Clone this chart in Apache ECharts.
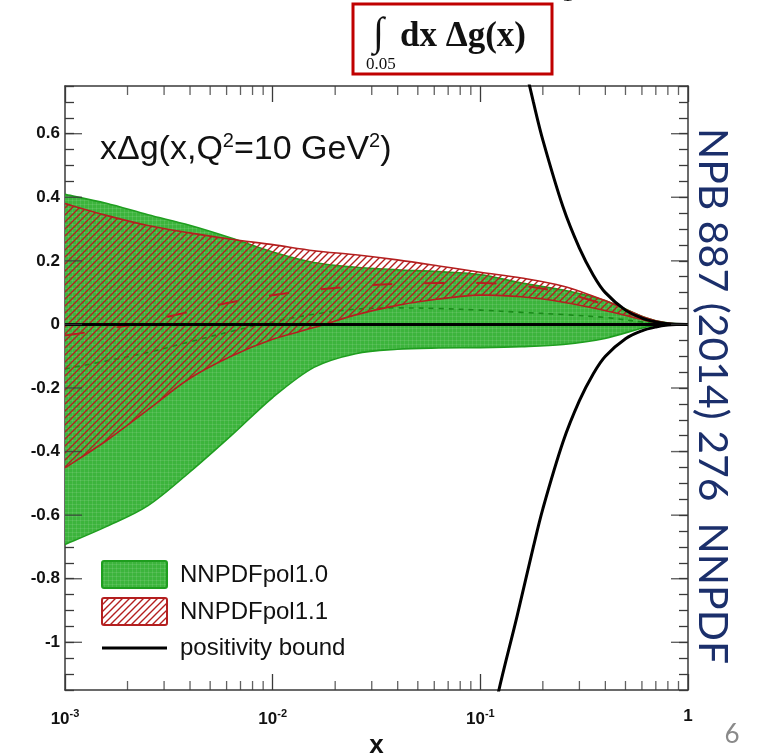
<!DOCTYPE html>
<html>
<head>
<meta charset="utf-8">
<script src="https://cdn.jsdelivr.net/npm/echarts@6/dist/echarts.min.js"></script>
<style>
  html, body { margin: 0; padding: 0; background: #ffffff; overflow: hidden; }
  #chart { width: 757px; height: 756px; }
</style>
</head>
<body>
<div id="chart"></div>
<script>
// ---- data: x*Delta g(x, Q^2 = 10 GeV^2) ----
// shared log-spaced x grid for both fits
const xGrid = [0.001, 0.00158, 0.00251, 0.00398, 0.00631, 0.01, 0.0158, 0.0251, 0.0398, 0.0631, 0.1, 0.158, 0.251, 0.398, 0.631, 0.794, 1];

// NNPDFpol1.0 (green band)
const pol10Upper   = [0.409, 0.381, 0.345, 0.312, 0.272, 0.228, 0.195, 0.180, 0.172, 0.166, 0.157, 0.130, 0.108, 0.075, 0.020, 0.005, 0];
const pol10Lower   = [-0.692, -0.636, -0.570, -0.465, -0.350, -0.230, -0.135, -0.092, -0.078, -0.074, -0.073, -0.070, -0.063, -0.044, -0.008, -0.002, 0];
const pol10Central = [-0.140, -0.115, -0.088, -0.055, -0.022, 0.008, 0.032, 0.048, 0.052, 0.050, 0.045, 0.038, 0.031, 0.022, 0.006, 0.001, 0];

// NNPDFpol1.1 (red hatched band)
const pol11Upper   = [0.380, 0.343, 0.311, 0.288, 0.268, 0.251, 0.232, 0.219, 0.203, 0.184, 0.164, 0.146, 0.120, 0.075, 0.020, 0.004, 0];
const pol11Lower   = [-0.451, -0.366, -0.268, -0.170, -0.100, -0.047, -0.010, 0.030, 0.060, 0.080, 0.092, 0.087, 0.070, 0.044, 0.012, 0.003, 0];
const pol11Central = [-0.035, -0.015, 0.010, 0.040, 0.070, 0.092, 0.108, 0.120, 0.128, 0.130, 0.130, 0.122, 0.100, 0.062, 0.016, 0.004, 0];

// positivity bound |x Delta g| <= x g
const boundX     = [0.1, 0.12, 0.15, 0.18, 0.2, 0.25, 0.3, 0.35, 0.4, 0.5, 0.6, 0.7, 0.8, 0.9, 1];
const boundUpper = [1.45, 1.18, 0.92, 0.70, 0.58, 0.37, 0.24, 0.155, 0.10, 0.045, 0.020, 0.008, 0.002, 0.0004, 0];
const boundLower = [-1.45, -1.18, -0.92, -0.70, -0.58, -0.37, -0.24, -0.155, -0.10, -0.045, -0.020, -0.008, -0.002, -0.0004, 0];

// axes
const xMin = 0.001, xMax = 1;
const yMin = -1.15, yMax = 0.75;
const yMajorTicks = [-1, -0.8, -0.6, -0.4, -0.2, 0, 0.2, 0.4, 0.6];
const yTickLabels = ['-1', '-0.8', '-0.6', '-0.4', '-0.2', '0', '0.2', '0.4', '0.6'];
const xMinorTicks = [0.002, 0.003, 0.004, 0.005, 0.006, 0.007, 0.008, 0.009,
                     0.02, 0.03, 0.04, 0.05, 0.06, 0.07, 0.08, 0.09,
                     0.2, 0.3, 0.4, 0.5, 0.6, 0.7, 0.8, 0.9];

const legendNames = ['NNPDFpol1.0', 'NNPDFpol1.1', 'positivity bound'];

// ---- colours ----
const GREEN = '#3cb43c';
const GREEN_EDGE = '#1f9e1f';
const GREEN_DARK = '#1a8a1a';
const RED = '#b41f1f';
const FRAME = '#3a3a3a';
const SANS = '"Liberation Sans", Arial, Helvetica, sans-serif';
const SERIF = '"Liberation Serif", "Times New Roman", serif';

// ---- fill patterns ----
function greenPattern() {
  const c = document.createElement('canvas');
  c.width = 4; c.height = 4;
  const g = c.getContext('2d');
  g.fillStyle = GREEN; g.fillRect(0, 0, 4, 4);
  g.fillStyle = 'rgba(255,255,255,0.10)';
  g.fillRect(0, 0, 4, 1);
  g.fillRect(0, 0, 1, 4);
  return c;
}
function hatchPattern() {
  const s = 7;
  const c = document.createElement('canvas');
  c.width = s; c.height = s;
  const g = c.getContext('2d');
  g.strokeStyle = RED; g.lineWidth = 1.4; g.lineCap = 'square';
  g.beginPath();
  g.moveTo(-1, s + 1); g.lineTo(s + 1, -1);
  g.moveTo(-1, 1); g.lineTo(1, -1);
  g.moveTo(s - 1, s + 1); g.lineTo(s + 1, s - 1);
  g.stroke();
  return c;
}
const greenFill = { image: greenPattern(), repeat: 'repeat' };
const hatchFill = { image: hatchPattern(), repeat: 'repeat' };

// ---- smooth curve through pixel points (Catmull-Rom as cubic Bezier) ----
function curveSegments(pts) {
  let d = '';
  for (let i = 0; i < pts.length - 1; i++) {
    const p0 = pts[i - 1] || pts[i], p1 = pts[i], p2 = pts[i + 1], p3 = pts[i + 2] || pts[i + 1];
    const c1 = [p1[0] + (p2[0] - p0[0]) / 6, p1[1] + (p2[1] - p0[1]) / 6];
    const c2 = [p2[0] - (p3[0] - p1[0]) / 6, p2[1] - (p3[1] - p1[1]) / 6];
    d += ' C' + c1[0].toFixed(2) + ' ' + c1[1].toFixed(2) + ' ' + c2[0].toFixed(2) + ' ' + c2[1].toFixed(2) +
         ' ' + p2[0].toFixed(2) + ' ' + p2[1].toFixed(2);
  }
  return d;
}
const moveTo = p => 'M' + p[0].toFixed(2) + ' ' + p[1].toFixed(2);

// uncertainty band: filled region between lo and hi, with both edges stroked
function bandSeries(name, lo, hi, fill, edge, z) {
  return {
    name, type: 'custom', coordinateSystem: 'cartesian2d', z: z, silent: true,
    data: xGrid.map((x, i) => [x, lo[i], hi[i]]),
    encode: { x: 0, y: [1, 2] },
    renderItem: function (params, api) {
      if (params.dataIndex !== 0) return null;
      const up = xGrid.map((x, i) => api.coord([x, hi[i]]));
      const dn = xGrid.map((x, i) => api.coord([x, lo[i]]));
      const dnRev = dn.slice().reverse();
      const area = moveTo(up[0]) + curveSegments(up) + ' L' + dnRev[0][0] + ' ' + dnRev[0][1] +
                   curveSegments(dnRev) + ' Z';
      return {
        type: 'group',
        children: [
          { type: 'path', shape: { pathData: area }, style: { fill: fill, stroke: null } },
          { type: 'path', shape: { pathData: moveTo(up[0]) + curveSegments(up) },
            style: { fill: null, stroke: edge, lineWidth: 1.6 } },
          { type: 'path', shape: { pathData: moveTo(dn[0]) + curveSegments(dn) },
            style: { fill: null, stroke: edge, lineWidth: 1.6 } }
        ]
      };
    }
  };
}

const pairs = (xs, ys) => xs.map((x, i) => [x, ys[i]]);
function lineSeries(name, xs, ys, style, z) {
  return {
    name, type: 'line', data: pairs(xs, ys), smooth: 0.35, symbol: 'none',
    lineStyle: style, z: z, silent: true, clip: true
  };
}
function tickMarks(points, size, offset) {
  return {
    type: 'scatter', data: points, symbol: 'rect', symbolSize: size, symbolOffset: offset,
    itemStyle: { color: FRAME }, z: 20, silent: true, clip: false
  };
}

const chart = echarts.init(document.getElementById('chart'), null, { renderer: 'canvas' });

const yAxisBase = {
  type: 'value', min: yMin, max: yMax, interval: 0.05,
  axisLine: { show: true, onZero: false, lineStyle: { color: FRAME, width: 1.5 } },
  axisTick: { show: true, inside: true, length: 9, lineStyle: { color: FRAME, width: 1.3 } },
  splitLine: { show: false }
};
const xAxisBase = {
  type: 'log', logBase: 10, min: xMin, max: xMax, splitNumber: 3,
  axisLine: { show: true, onZero: false, lineStyle: { color: FRAME, width: 1.5 } },
  axisTick: { show: true, inside: true, length: 16, lineStyle: { color: FRAME, width: 1.3 } },
  splitLine: { show: false }
};

const option = {
  animation: false,
  backgroundColor: '#ffffff',
  grid: { left: 65, right: 69, top: 86, bottom: 66, containLabel: false, outerBoundsMode: 'none' },
  xAxis: [
    Object.assign({}, xAxisBase, {
      position: 'bottom',
      name: 'x', nameLocation: 'middle', nameGap: 41,
      nameTextStyle: { fontFamily: SANS, fontWeight: 'bold', fontSize: 26, color: '#111' },
      axisLabel: {
        margin: 18,
        formatter: function (v) {
          const e = Math.round(Math.log10(v));
          return e === 0 ? '{b|1}' : '{b|10}{s|' + e + '}';
        },
        rich: {
          b: { fontFamily: SANS, fontWeight: 'bold', fontSize: 17, color: '#111' },
          s: { fontFamily: SANS, fontWeight: 'bold', fontSize: 11, color: '#111', padding: [0, 0, 12, 0] }
        }
      }
    }),
    Object.assign({}, xAxisBase, { position: 'top', axisLabel: { show: false } })
  ],
  yAxis: [
    Object.assign({}, yAxisBase, {
      position: 'left',
      axisLabel: {
        margin: 5, fontFamily: SANS, fontWeight: 'bold', fontSize: 17, color: '#111',
        formatter: function (v) {
          const i = yMajorTicks.findIndex(t => Math.abs(t - v) < 1e-6);
          return i >= 0 ? yTickLabels[i] : '';
        }
      }
    }),
    Object.assign({}, yAxisBase, { position: 'right', axisLabel: { show: false } })
  ],
  series: [
    // NNPDFpol1.0 band and its central value
    bandSeries('NNPDFpol1.0', pol10Lower, pol10Upper, greenFill, GREEN_EDGE, 2),
    lineSeries('NNPDFpol1.0 central', xGrid, pol10Central, { color: GREEN_DARK, width: 1.6, type: [5, 5] }, 3),
    // NNPDFpol1.1 hatched band and its central value
    bandSeries('NNPDFpol1.1', pol11Lower, pol11Upper, hatchFill, RED, 4),
    lineSeries('NNPDFpol1.1 central', xGrid, pol11Central, { color: RED, width: 2, type: [20, 32] }, 5),
    // positivity bound and zero line
    lineSeries('positivity bound', boundX, boundUpper, { color: '#000', width: 3 }, 6),
    lineSeries('positivity bound (lower)', boundX, boundLower, { color: '#000', width: 3 }, 6),
    lineSeries('zero', [xMin, xMax], [0, 0], { color: '#000', width: 3 }, 6),
    // longer major ticks on y, minor ticks on the log x axes
    tickMarks(yMajorTicks.map(v => [xMin, v]), [17, 1.4], [8.5, 0]),
    tickMarks(yMajorTicks.map(v => [xMax, v]), [17, 1.4], [-8.5, 0]),
    tickMarks(xMinorTicks.map(v => [v, yMin]), [1.3, 9], [0, -4.5]),
    tickMarks(xMinorTicks.map(v => [v, yMax]), [1.3, 9], [0, 4.5])
  ],
  graphic: [
    // plot label
    {
      type: 'text', left: 100, top: 131, z: 30,
      style: {
        text: '{a|xΔg(x,Q}{s|2}{a|=10 GeV}{s|2}{a|)}',
        rich: {
          a: { fontFamily: SANS, fontSize: 34, fill: '#111' },
          s: { fontFamily: SANS, fontSize: 20, fill: '#111', padding: [0, 0, 17, 0] }
        }
      }
    },
    // legend
    { type: 'rect', z: 30, shape: { x: 102, y: 561, width: 65, height: 27, r: 2 },
      style: { fill: greenFill, stroke: GREEN_EDGE, lineWidth: 2 } },
    { type: 'text', z: 30, style: { x: 180, y: 575, text: legendNames[0], font: '24px ' + SANS, fill: '#111', verticalAlign: 'middle' } },
    { type: 'rect', z: 30, shape: { x: 102, y: 598, width: 65, height: 27, r: 2 },
      style: { fill: hatchFill, stroke: RED, lineWidth: 2 } },
    { type: 'text', z: 30, style: { x: 180, y: 612, text: legendNames[1], font: '24px ' + SANS, fill: '#111', verticalAlign: 'middle' } },
    { type: 'line', z: 30, shape: { x1: 102, y1: 648, x2: 167, y2: 648 },
      style: { stroke: '#000', lineWidth: 3.2 } },
    { type: 'text', z: 30, style: { x: 180, y: 648, text: legendNames[2], font: '24px ' + SANS, fill: '#111', verticalAlign: 'middle' } },
    // integral box above the frame
    { type: 'rect', z: 30, shape: { x: 353, y: 4, width: 199, height: 70 },
      style: { fill: 'none', stroke: '#c00000', lineWidth: 3 } },
    { type: 'text', z: 30, style: { x: 373, y: 34, text: '∫', font: '40px ' + SERIF, fill: '#111', verticalAlign: 'middle' } },
    { type: 'text', z: 30, style: { x: 366, y: 65, text: '0.05', font: '17px ' + SERIF, fill: '#111', verticalAlign: 'middle' } },
    { type: 'text', z: 30, style: { x: 400, y: 37, text: 'dx Δg(x)', font: 'bold 35px ' + SERIF, fill: '#111', verticalAlign: 'middle' } },
    { type: 'text', z: 30, style: { x: 562, y: 6, text: '1', font: '22px ' + SERIF, fill: '#111', verticalAlign: 'bottom' } },
    // reference along the right edge
    { type: 'text', z: 30, x: 712, y: 396, rotation: -Math.PI / 2,
      style: { x: 0, y: 0, text: 'NPB 887 (2014) 276  NNPDF', font: '41px Lato, ' + SANS, fill: '#1b2f6b',
               align: 'center', verticalAlign: 'middle' } },
    // page number
    { type: 'text', z: 30, style: { x: 732, y: 735, text: '6', font: '26px Lato, ' + SANS, fill: '#8a8a8a',
               align: 'center', verticalAlign: 'middle' } }
  ]
};

chart.setOption(option);
</script>
</body>
</html>
